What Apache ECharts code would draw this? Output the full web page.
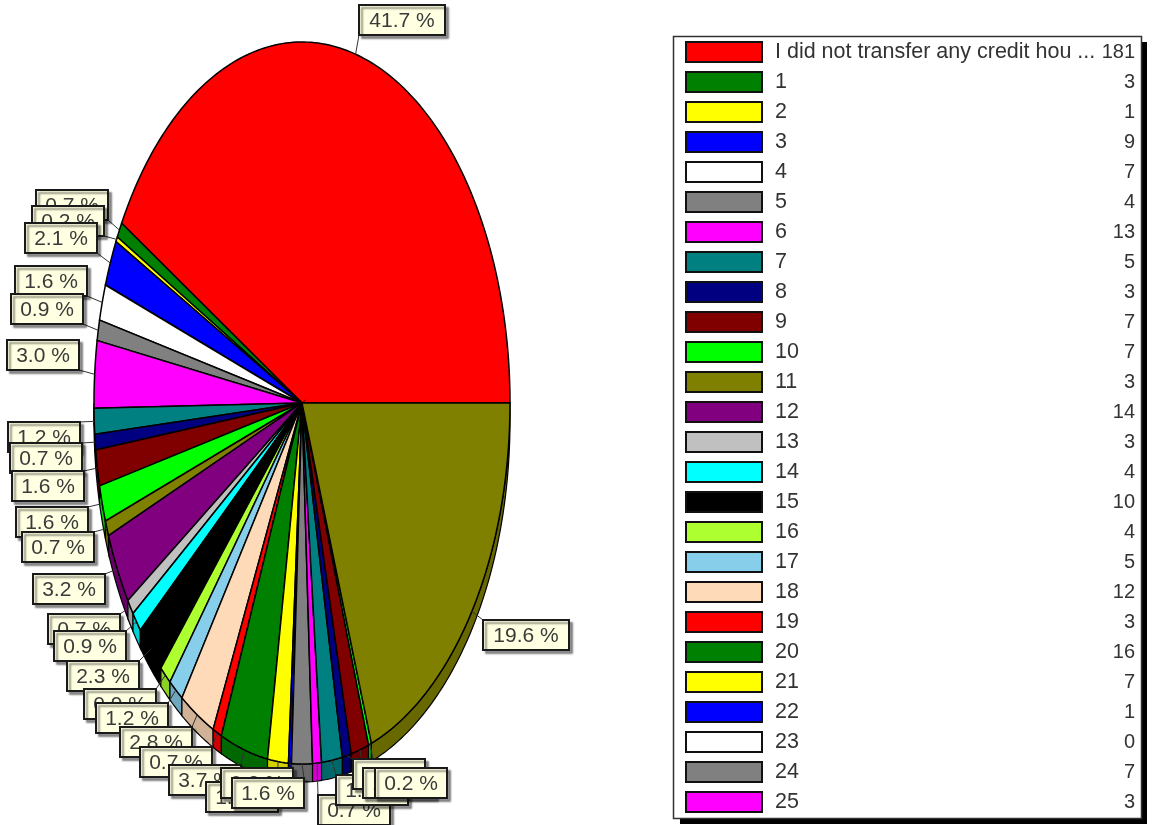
<!DOCTYPE html>
<html><head><meta charset="utf-8">
<style>html,body{margin:0;padding:0;background:#fff}#c{width:1153px;height:825px}</style>
<script src="https://cdn.jsdelivr.net/npm/echarts@6/dist/echarts.min.js"></script>
</head><body><div id="c"></div>
<script>
// ---- data ----
const categories = ["I did not transfer any credit hou ...","1","2","3","4","5","6","7","8","9","10","11","12","13","14","15","16","17","18","19","20","21","22","23","24","25","26","27","28","29","30"];
const values = [181,3,1,9,7,4,13,5,3,7,7,3,14,3,4,10,4,5,12,3,16,7,1,0,7,3,7,3,6,1,85];
const palette = ["#ff0000","#008000","#ffff00","#0000ff","#ffffff","#808080","#ff00ff","#008080","#000080","#800000","#00ff00","#808000","#800080","#c0c0c0","#00ffff","#000000","#adff2f","#87ceeb","#ffdab9"];
const legendRowCount = 26;
// ---- layout (label boxes placed by hand to keep the overlaps of the original) ----
const labelCorner = [[359,5],[36,190],[32,206],[25,223],[15,266],[11,294],[7,340],[8,422],[10,443],[12,471],[16,507],[22,532],[33,574],[48,614],[54,631],[67,661],[84,689],[96,703],[120,727],[140,747],[169,765],[206,782],[221,768],null,[232,778],[318,795],[336,775],[353,759],[363,768],[375,768],[483,620]];
const CX=302, CY=403, RX=208, RY=361, DEPTH=18;
const FONT='"Liberation Sans", Arial, sans-serif';
const total = values.reduce((a,b)=>a+b,0);
function startAngle(i){let s=0;for(let k=0;k<i;k++)s+=values[k];return s/total*360;}
const rad=d=>d*Math.PI/180;
const pt=(a,dy)=>[CX+RX*Math.cos(rad(a)),CY-RY*Math.sin(rad(a))+(dy||0)];
function arc(a0,a1,dy){const n=Math.max(1,Math.ceil(Math.abs(a1-a0)));const r=[];for(let j=0;j<=n;j++)r.push(pt(a0+(a1-a0)*j/n,dy));return r;}
function darken(hex,f){const n=parseInt(hex.slice(1),16);return `rgb(${((n>>16)&255)*f|0},${((n>>8)&255)*f|0},${(n&255)*f|0})`;}
const colorOf=i=>palette[i%palette.length];
const sliceData=values.map((v,i)=>({name:categories[i],value:v}));

function renderRim(params,api){
  const i=params.dataIndex,v=api.value(0);
  const a0=Math.max(startAngle(i),180),a1=startAngle(i)+v/total*360;
  if(a1<=a0)return {type:'group',children:[]};
  const top=arc(a0,a1,0),bot=arc(a1,a0,DEPTH);
  return {type:'polygon',shape:{points:top.concat(bot)},style:{fill:darken(colorOf(i),0.82),stroke:'#000',lineWidth:1.2}};
}
function renderSlice(params,api){
  const i=params.dataIndex,v=api.value(0);
  const a0=startAngle(i),a1=a0+v/total*360;
  return {type:'polygon',shape:{points:[[CX,CY]].concat(arc(a0,a1,0))},style:{fill:colorOf(i),stroke:'#000',lineWidth:1.5}};
}
function boxW(t){return t.length>5?86:72;}
function renderLeader(params,api){
  const i=params.dataIndex,v=api.value(0),c=labelCorner[i];
  if(!c)return {type:'group',children:[]};
  const t=(v/total*100).toFixed(1)+' %',w=boxW(t),h=30;
  const p=pt(startAngle(i)+v/total*180,0);
  let best=null,bd=1e12;
  [[c[0],c[1]],[c[0]+w,c[1]],[c[0],c[1]+h],[c[0]+w,c[1]+h]].forEach(q=>{const d=(q[0]-p[0])**2+(q[1]-p[1])**2;if(d<bd){bd=d;best=q;}});
  return {type:'line',shape:{x1:p[0],y1:p[1],x2:best[0],y2:best[1]},style:{stroke:'#333',lineWidth:1}};
}
function renderLabel(params,api){
  const i=params.dataIndex,v=api.value(0),c=labelCorner[i];
  if(!c)return {type:'group',children:[]};
  const t=(v/total*100).toFixed(1)+' %',w=boxW(t),h=30;
  return {type:'group',children:[
    {type:'rect',shape:{x:c[0],y:c[1],width:w,height:h},style:{fill:'#ffffe1',stroke:'#1a1a1a',lineWidth:2,shadowColor:'rgba(0,0,0,0.4)',shadowBlur:2,shadowOffsetX:3,shadowOffsetY:3}},
    {type:'text',style:{x:c[0]+w/2,y:c[1]+h/2+1,text:t,align:'center',verticalAlign:'middle',fill:'#3a3a3a',font:'21px '+FONT}}
  ]};
}
function renderLegendRow(params,api){
  const i=params.dataIndex,v=api.value(0),y=42+i*30;
  return {type:'group',children:[
    {type:'rect',shape:{x:686,y:y,width:76,height:20},style:{fill:colorOf(i),stroke:'#111',lineWidth:2}},
    {type:'text',style:{x:775,y:y+10,text:categories[i],align:'left',verticalAlign:'middle',fill:'#333',font:'21.5px '+FONT}},
    {type:'text',style:{x:1135,y:y+10,text:String(v),align:'right',verticalAlign:'middle',fill:'#333',font:'20px '+FONT}}
  ]};
}
const chart=echarts.init(document.getElementById('c'),null,{renderer:'canvas'});
chart.setOption({
  animation:false,
  backgroundColor:'#fff',
  graphic:{elements:[
    {type:'rect',z:1,shape:{x:680,y:42,width:467,height:782},style:{fill:'#000'}},
    {type:'rect',z:2,shape:{x:673.5,y:36.5,width:468,height:782},style:{fill:'#fff',stroke:'#333',lineWidth:1.5}}
  ]},
  series:[
    {type:'custom',name:'rim',coordinateSystem:'none',z:2,silent:true,data:sliceData,renderItem:renderRim},
    {type:'custom',name:'slices',coordinateSystem:'none',z:3,data:sliceData,renderItem:renderSlice},
    {type:'custom',name:'leaders',coordinateSystem:'none',z:4,silent:true,data:sliceData,renderItem:renderLeader},
    {type:'custom',name:'labels',coordinateSystem:'none',z:5,silent:true,data:sliceData,renderItem:renderLabel},
    {type:'custom',name:'legend',coordinateSystem:'none',z:6,silent:true,data:sliceData.slice(0,legendRowCount),renderItem:renderLegendRow}
  ]
});
</script></body></html>
